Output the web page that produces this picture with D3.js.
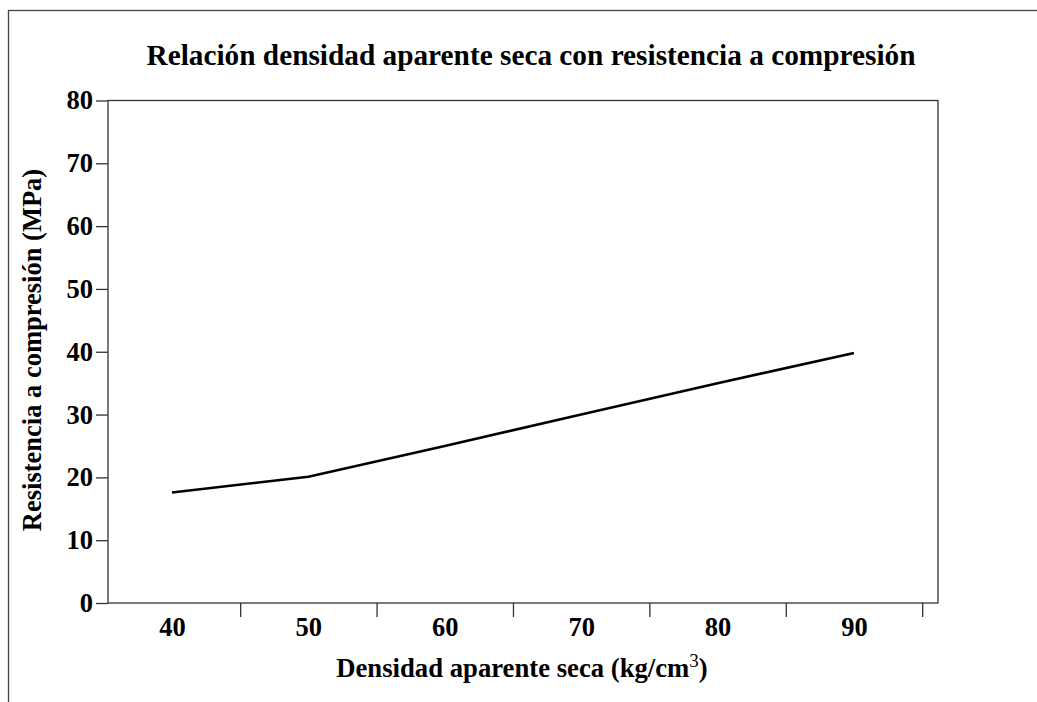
<!DOCTYPE html>
<html>
<head>
<meta charset="utf-8">
<script src="https://cdn.jsdelivr.net/npm/d3@7"></script>
<style>
  body { margin: 0; background: #fff; }
  svg { display: block; }
  text { font-family: "Liberation Serif", "Times New Roman", serif; font-weight: bold; fill: #000; }
</style>
</head>
<body>
<svg id="chart" width="1037" height="702"></svg>
<script>
// Data
const densidad = [40, 50, 60, 70, 80, 90];
const resistencia = [17.6, 20.1, 25.0, 30.0, 35.0, 39.8];
const xLabelTicks = [40, 50, 60, 70, 80, 90];
const xMarkTicks = [45, 55, 65, 75, 85, 95];
const yTicks = [0, 10, 20, 30, 40, 50, 60, 70, 80];
const titleText = "Relación densidad aparente seca con resistencia a compresión";
const xTitle = "Densidad aparente seca (kg/cm";
const yTitle = "Resistencia a compresión (MPa)";

const svg = d3.select("#chart");
const plot = { left: 108, right: 938, top: 100.5, bottom: 603 };

// outer frame
svg.append("rect")
  .attr("x", 8.5).attr("y", 10.5)
  .attr("width", 1040).attr("height", 700)
  .attr("fill", "none").attr("stroke", "#444").attr("stroke-width", 1.3);

const x = d3.scaleLinear().domain([35.31, 96.16]).range([plot.left, plot.right]);
const y = d3.scaleLinear().domain([0, 80]).range([plot.bottom, plot.top]);

// plot box
svg.append("rect")
  .attr("x", plot.left).attr("y", plot.top)
  .attr("width", plot.right - plot.left).attr("height", plot.bottom - plot.top)
  .attr("fill", "none").attr("stroke", "#333").attr("stroke-width", 1.3);

// x tick marks
const gxm = svg.append("g").attr("transform", `translate(0,${plot.bottom})`)
  .call(d3.axisBottom(x).tickValues(xMarkTicks).tickSize(14).tickFormat(""));
gxm.select(".domain").remove();
gxm.selectAll("line").attr("stroke", "#333").attr("stroke-width", 1.3);

// x labels
const gxl = svg.append("g").attr("transform", `translate(0,${plot.bottom})`)
  .call(d3.axisBottom(x).tickValues(xLabelTicks).tickSize(0).tickPadding(14.5).tickFormat(d3.format("d")));
gxl.select(".domain").remove();
gxl.selectAll("text").style("font-size", "26.5px").attr("fill", "#000");

// y axis
const gy = svg.append("g").attr("transform", `translate(${plot.left},0)`)
  .call(d3.axisLeft(y).tickValues(yTicks).tickSize(12).tickPadding(3).tickFormat(d3.format("d")));
gy.select(".domain").remove();
gy.selectAll("line").attr("stroke", "#333").attr("stroke-width", 1.3);
gy.selectAll("text").style("font-size", "26.5px").attr("fill", "#000");

// line
const line = d3.line().x((d, i) => x(densidad[i])).y(d => y(d));
svg.append("path")
  .datum(resistencia)
  .attr("d", line)
  .attr("fill", "none").attr("stroke", "#000").attr("stroke-width", 2.6);

// title
svg.append("text")
  .attr("x", 531).attr("y", 65)
  .attr("text-anchor", "middle")
  .style("font-size", "29.3px")
  .text(titleText);

// x title
const xt = svg.append("text")
  .attr("x", 522).attr("y", 677)
  .attr("text-anchor", "middle")
  .style("font-size", "26.7px");
xt.append("tspan").text(xTitle);
xt.append("tspan").attr("dy", -10).style("font-size", "19px").style("font-weight", "normal").text("3");
xt.append("tspan").attr("dy", 10).text(")");

// y title
svg.append("text")
  .attr("transform", "translate(41,350) rotate(-90)")
  .attr("text-anchor", "middle")
  .style("font-size", "26.5px")
  .text(yTitle);
</script>
</body>
</html>
